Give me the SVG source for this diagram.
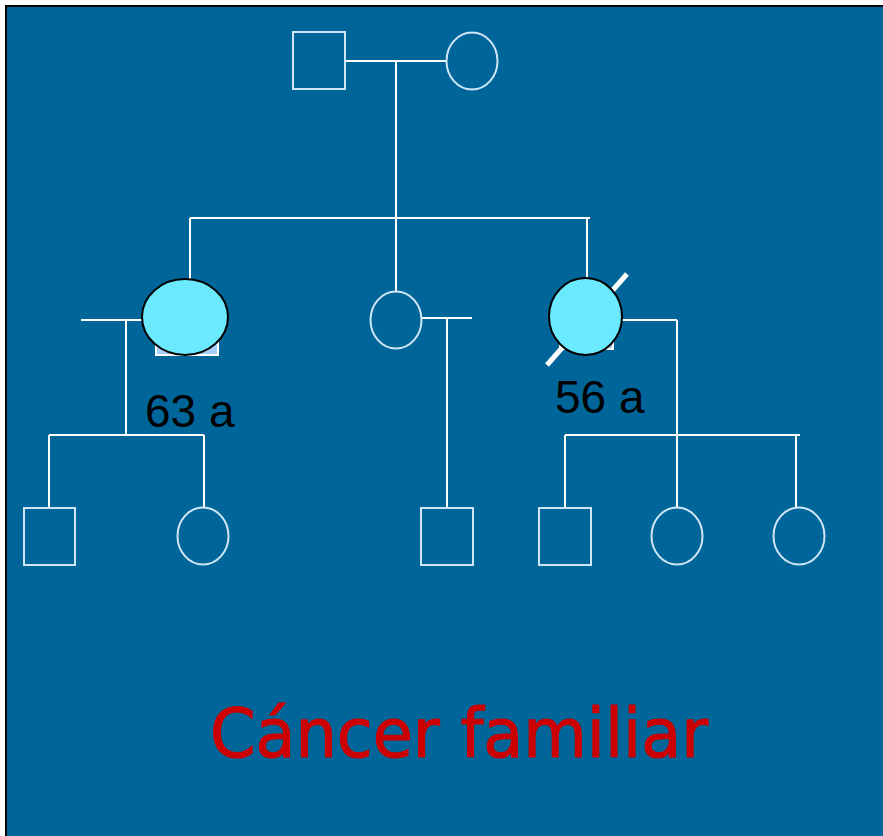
<svg xmlns="http://www.w3.org/2000/svg" width="883" height="836" viewBox="0 0 883 836">
<style>
.ln{stroke:#ffffff;stroke-width:2;fill:none}
.sq,.ci{fill:none;stroke:#cfe6f7;stroke-width:2}
.aff{fill:#6be9ff;stroke:#000000;stroke-width:2}
.hid{fill:#a9d0fa;stroke:#ffffff;stroke-width:2}
.age{font-family:"Liberation Sans",Arial,sans-serif;font-size:46px;fill:#000000}
.title{font-family:"DejaVu Sans","Noto Sans",sans-serif;font-size:68px;fill:#cc0000;stroke:#cc0000;stroke-width:1.2}
</style>
<rect x="0" y="0" width="883" height="836" fill="#ffffff"/>
<rect x="6" y="6" width="880" height="834" fill="#006699" stroke="#000000" stroke-width="2"/>
<g id="connectors">
<path class="ln" d="M345 61H447"/>
<path class="ln" d="M396 61V218"/>
<path class="ln" d="M190 218H590"/>
<path class="ln" d="M190 218V280"/>
<path class="ln" d="M396 218V292"/>
<path class="ln" d="M587 218V279"/>
<path class="ln" d="M81 320H142"/>
<path class="ln" d="M126 320V435"/>
<path class="ln" d="M49 435H204"/>
<path class="ln" d="M49 435V508"/>
<path class="ln" d="M204 435V508"/>
<path class="ln" d="M421 318H472"/>
<path class="ln" d="M447 318V508"/>
<path class="ln" d="M622 320H677"/>
<path class="ln" d="M677 320V508"/>
<path class="ln" d="M565 435H800"/>
<path class="ln" d="M565 435V508"/>
<path class="ln" d="M796 435V508"/>
</g>
<g id="grandfather"><rect class="sq" x="293" y="32" width="52" height="57"/></g>
<g id="grandmother"><ellipse class="ci" cx="472" cy="61" rx="25.5" ry="28.5"/></g>
<g id="aunt-left">
<rect class="hid" x="156" y="300" width="62" height="55"/>
<ellipse class="aff" cx="185" cy="317" rx="43" ry="38"/>
<text class="age" x="145" y="427">63 a</text>
</g>
<g id="mother"><ellipse class="ci" cx="396" cy="320" rx="25.5" ry="28.5"/></g>
<g id="aunt-right">
<rect class="hid" x="560" y="295" width="53" height="54"/>
<line x1="547" y1="365" x2="627" y2="274" stroke="#ffffff" stroke-width="5"/>
<ellipse class="aff" cx="585.5" cy="316.5" rx="36.5" ry="38.5"/>
<text class="age" x="555" y="413">56 a</text>
</g>
<g id="child-l1"><rect class="sq" x="24" y="508" width="51" height="57"/></g>
<g id="child-l2"><ellipse class="ci" cx="203" cy="536" rx="25.5" ry="28.5"/></g>
<g id="child-m1"><rect class="sq" x="421" y="508" width="52" height="57"/></g>
<g id="child-r1"><rect class="sq" x="539" y="508" width="52" height="57"/></g>
<g id="child-r2"><ellipse class="ci" cx="677" cy="536" rx="25.5" ry="28.5"/></g>
<g id="child-r3"><ellipse class="ci" cx="799" cy="536" rx="25.5" ry="28.5"/></g>
<text class="title" x="210" y="757" textLength="498" lengthAdjust="spacingAndGlyphs">Cáncer familiar</text>
</svg>
